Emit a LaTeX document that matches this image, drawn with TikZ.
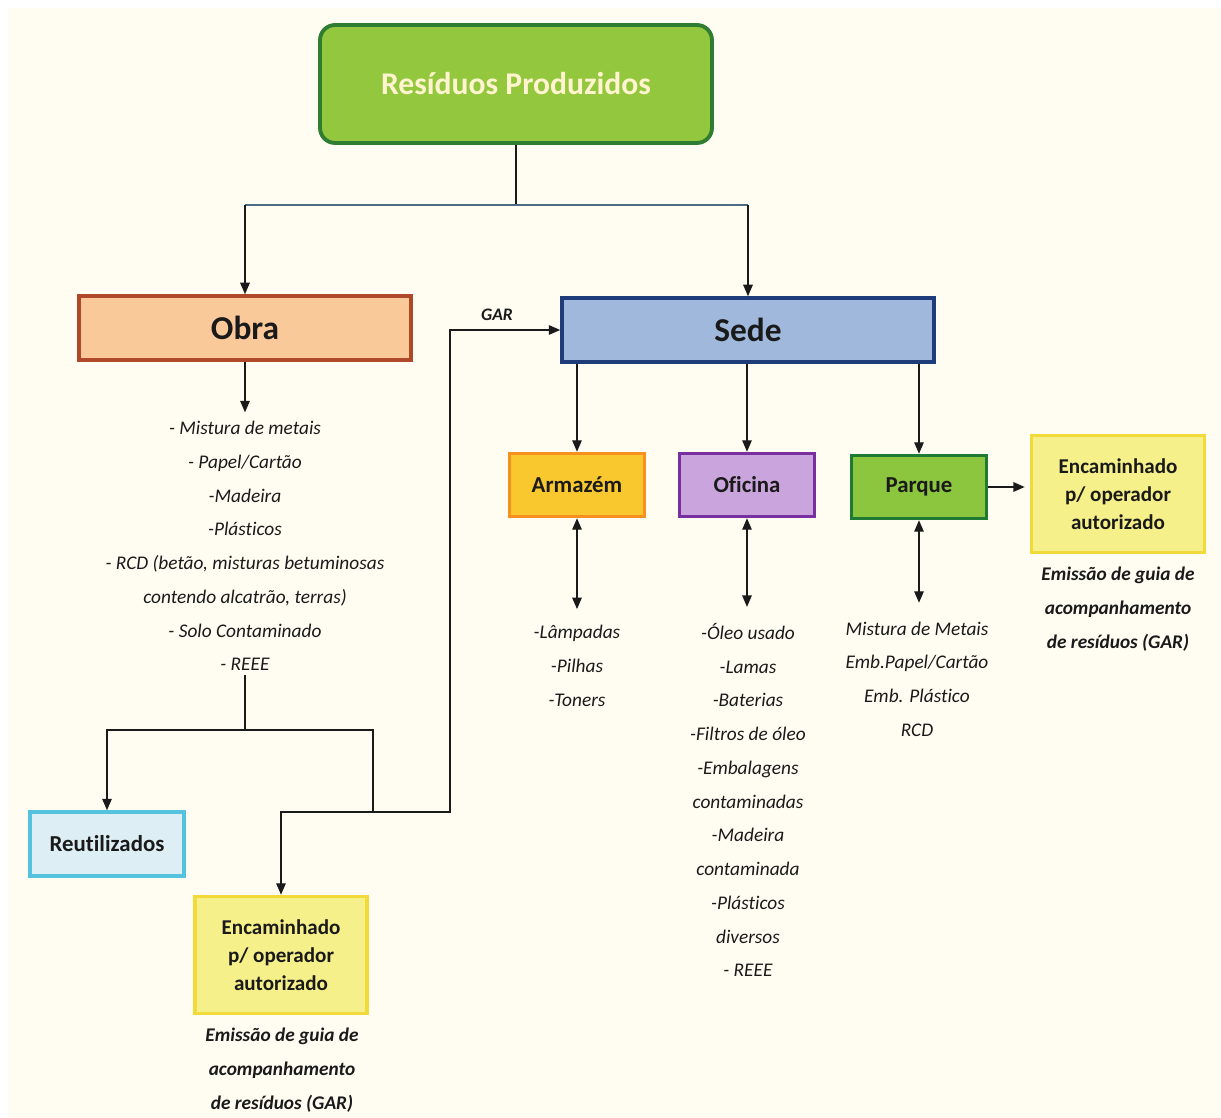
\documentclass[tikz,border=0pt]{standalone}
\usepackage{fontspec}
\setmainfont{Carlito}[Ligatures=NoCommon]
\usepackage{xcolor}
\usetikzlibrary{arrows.meta}

\definecolor{fundo}{HTML}{FFFDF2}
\definecolor{tinta}{HTML}{1A1A1A}
\definecolor{ardosia}{HTML}{4D6B84}
\definecolor{titulo}{HTML}{FFF4CF}
\definecolor{verdeclaro}{HTML}{93C83E}
\definecolor{verdeescuro}{HTML}{2E7D32}
\definecolor{pessego}{HTML}{FAC99A}
\definecolor{tijolo}{HTML}{B0482A}
\definecolor{azulclaro}{HTML}{9FB8DB}
\definecolor{azulescuro}{HTML}{1F3C7A}
\definecolor{cianoclaro}{HTML}{DDEFF4}
\definecolor{ciano}{HTML}{55C3DE}
\definecolor{amarelo}{HTML}{F6F08A}
\definecolor{amareloborda}{HTML}{F1DA3A}
\definecolor{ouro}{HTML}{F9C72E}
\definecolor{laranja}{HTML}{F7901E}
\definecolor{lilas}{HTML}{CAA4DC}
\definecolor{roxo}{HTML}{7A2FA0}
\definecolor{relva}{HTML}{8CC63E}
\definecolor{floresta}{HTML}{1F7A33}

\begin{document}
\begin{tikzpicture}[x=0.02cm,y=-0.02cm,
                caixa/.style={draw,line width=2pt,inner sep=0pt,text=tinta,align=center},
                lista/.style={align=center,inner sep=2pt,text=tinta,font=\itshape\fontsize{11}{19.2}\selectfont},
                nota/.style={align=center,inner sep=2pt,text=tinta,font=\bfseries\itshape\fontsize{11}{19.2}\selectfont},
                seta/.style={-{Triangle[length=2.3mm,width=1.9mm]},line width=0.8pt,draw=tinta},
                setadupla/.style={{Triangle[length=2.3mm,width=1.9mm]}-{Triangle[length=2.3mm,width=1.9mm]},line width=0.8pt,draw=tinta}]
                % fundo
                \fill[white] (0,0) rectangle (1221,1118);
                \fill[fundo] (8,8) rectangle (1221,1118);
                \useasboundingbox (0,0) rectangle (1221,1118);

                % caixas
                \node[caixa,fill=verdeclaro,draw=verdeescuro,line width=2.2pt,rounded corners=0.3cm,minimum width=7.84cm,minimum height=2.36cm,text=titulo,font=\bfseries\fontsize{18}{20}\selectfont] (residuos) at (516,84) {Resíduos Produzidos};
                \node[caixa,fill=pessego,draw=tijolo,minimum width=6.64cm,minimum height=1.28cm,font=\bfseries\fontsize{19}{21}\selectfont] (obra) at (245,328) {Obra};
                \node[caixa,fill=azulclaro,draw=azulescuro,minimum width=7.44cm,minimum height=1.28cm,font=\bfseries\fontsize{19}{21}\selectfont] (sede) at (748,330) {Sede};
                \node[caixa,fill=ouro,draw=laranja,minimum width=2.7cm,minimum height=1.26cm,font=\bfseries\fontsize{13}{15}\selectfont] (armazem) at (577,485) {Armazém};
                \node[caixa,fill=lilas,draw=roxo,minimum width=2.7cm,minimum height=1.26cm,font=\bfseries\fontsize{13}{15}\selectfont] (oficina) at (747,485) {Oficina};
                \node[caixa,fill=relva,draw=floresta,minimum width=2.7cm,minimum height=1.26cm,font=\bfseries\fontsize{13}{15}\selectfont] (parque) at (919,487) {Parque};
                \node[caixa,fill=amarelo,draw=amareloborda,minimum width=3.46cm,minimum height=2.34cm,font=\bfseries\fontsize{12}{15.8}\selectfont] (encdir) at (1118,494) {Encaminhado\\p/ operador\\autorizado};
                \node[caixa,fill=cianoclaro,draw=ciano,minimum width=3.08cm,minimum height=1.28cm,font=\bfseries\fontsize{13}{15}\selectfont] (reutil) at (107,844) {Reutilizados};
                \node[caixa,fill=amarelo,draw=amareloborda,minimum width=3.44cm,minimum height=2.34cm,font=\bfseries\fontsize{12}{15.8}\selectfont] (encobra) at (281,955) {Encaminhado\\p/ operador\\autorizado};

                % listas
                \node[lista] (obralista) at (245,546) {- Mistura de metais\\- Papel/Cartão\\-Madeira\\-Plásticos\\- RCD (betão, misturas betuminosas\\contendo alcatrão, terras)\\- Solo Contaminado\\- REEE};
                \node[lista] (armazemlista) at (577,666) {-Lâmpadas\\-Pilhas\\-Toners};
                \node[lista] (oficinalista) at (748,800) {-Óleo usado\\-Lamas\\-Baterias\\-Filtros de óleo\\-Embalagens\\contaminadas\\-Madeira\\contaminada\\-Plásticos\\diversos\\- REEE};
                \node[lista] (parquelista) at (917,679) {Mistura de Metais\\Emb.Papel/Cartão\\Emb. Plástico\\RCD};
                \node[nota] (notadir) at (1118,609) {Emissão de guia de\\acompanhamento\\de resíduos (GAR)};
                \node[nota] (notaobra) at (282,1070) {Emissão de guia de\\acompanhamento\\de resíduos (GAR)};
                \node[text=tinta,font=\bfseries\itshape\fontsize{10}{12}\selectfont] (gar) at (497,315) {GAR};

                % pontos de passagem
                \coordinate (ramo) at (516,205);
                \coordinate (bifurca) at (245,730);
                \coordinate (canto) at (373,730);
                \coordinate (juncao) at (373,812);
                \coordinate (subida) at (450,812);

                % ligacoes
                \draw[line width=0.8pt,draw=tinta] (residuos) -- (ramo);
                \draw[line width=0.8pt,draw=ardosia] (obra.north |- ramo) -- (sede.north |- ramo);
                \draw[seta] (obra.north |- ramo) -- (obra.north);
                \draw[seta] (sede.north |- ramo) -- (sede.north);
                \draw[seta,shorten >=1mm] (obra.south) -- (obralista.north);
                \draw[line width=0.8pt,draw=tinta] (obralista.south) -- (bifurca);
                \draw[seta] (bifurca) -| (reutil.north);
                \draw[line width=0.8pt,draw=tinta] (bifurca) -- (canto) -- (juncao);
                \draw[seta] (juncao) -| (encobra.north);
                \draw[seta] (juncao) -- (subida) |- (sede.west);
                \draw[seta] (sede.south -| armazem) -- (armazem);
                \draw[seta] (sede.south -| oficina) -- (oficina);
                \draw[seta] (sede.south -| parque) -- (parque);
                \draw[setadupla,shorten >=2.5mm] (armazem.south) -- (armazem.south |- armazemlista.north);
                \draw[setadupla,shorten >=2.5mm] (oficina.south) -- (oficina.south |- oficinalista.north);
                \draw[setadupla,shorten >=3mm] (parque.south) -- (parque.south |- parquelista.north);
                \draw[seta,line width=1.1pt,shorten >=1mm] (parque.east) -- (parque.east -| encdir.west);
\end{tikzpicture}
\end{document}
